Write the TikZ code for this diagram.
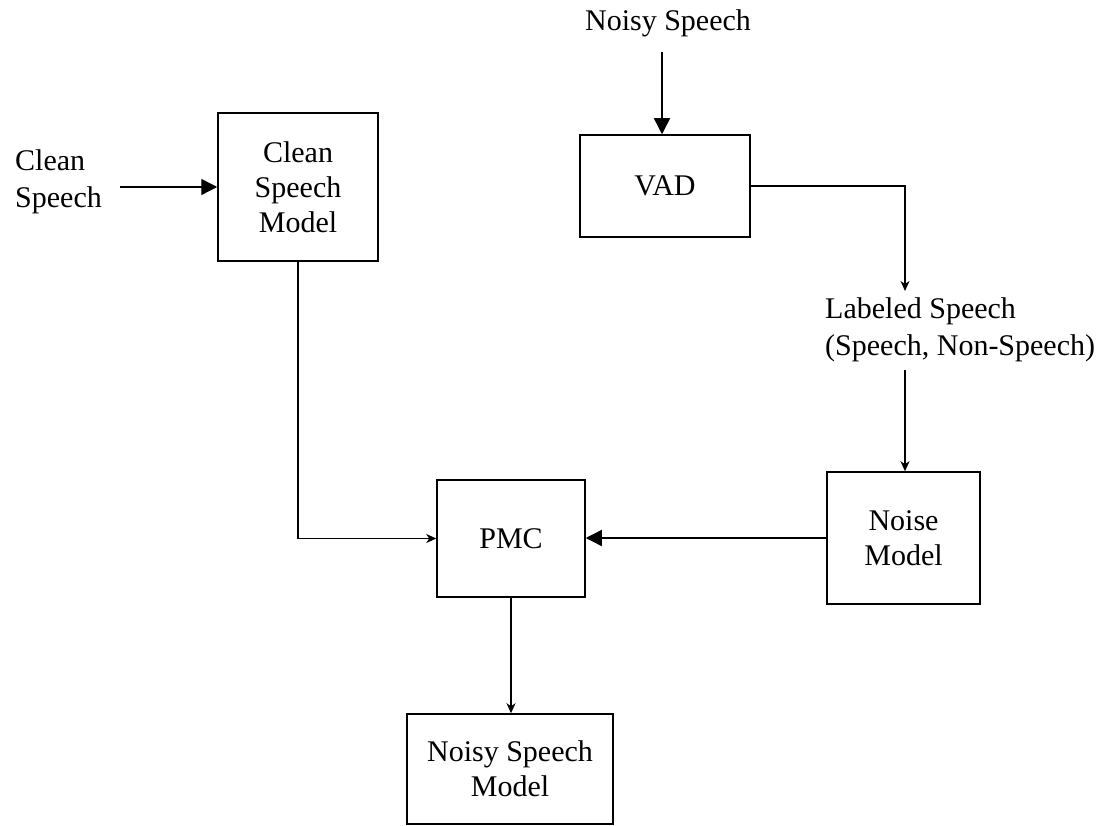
\documentclass[tikz,border=0pt]{standalone}
\usepackage{fontspec}
\setmainfont{Liberation Serif}
\usetikzlibrary{arrows.meta}
\begin{document}
\begin{tikzpicture}[x=1pt,y=-1pt,
  blk/.style={draw,line width=1.5pt,inner sep=0pt,align=center,font=\fontsize{30}{35}\selectfont},
  lbl/.style={inner sep=0pt,font=\fontsize{30}{36.5}\selectfont},
  conn/.style={line width=1.4pt},
  bigarr/.style={conn,-{Triangle[length=16pt,width=16pt]}},
  smallarr/.style={conn,-{Stealth[length=10pt,width=9pt,inset=3pt]}}]
\useasboundingbox (0,0) rectangle (1108,826);
% boxes
\node[blk,minimum width=160pt,minimum height=148pt] (csm) at (298,187) {Clean\\Speech\\Model};
\node[blk,minimum width=170pt,minimum height=102pt] (vad) at (665,186) {VAD};
\node[blk,minimum width=148pt,minimum height=117pt] (pmc) at (511,538.5) {PMC};
\node[blk,minimum width=153pt,minimum height=132pt] (nm) at (903.5,538) {Noise\\Model};
\node[blk,minimum width=206pt,minimum height=110pt] (nsm) at (510,769) {Noisy Speech\\Model};
% labels
\node[lbl] (ns) at (668,23) {Noisy Speech};
\node[lbl,align=left,anchor=west] (cs) at (15,182) {Clean\\Speech};
\node[lbl,align=left,anchor=west] (lab) at (825,330) {Labeled Speech\\(Speech, Non-Speech)};
% free ends
\coordinate (nsin) at (662,52);
\coordinate (csin) at (120,187);
\coordinate (labtop) at (905,291);
\coordinate (labbot) at (905,370);
% connectors
\draw[bigarr] (nsin) -- (nsin |- vad.north);
\draw[bigarr] (csin) -- (csm.west);
\draw[smallarr] (vad.east) -| (labtop);
\draw[smallarr] (labbot) -- (labbot |- nm.north);
\draw[smallarr] (csm.south) |- (pmc.west);
\draw[bigarr] (nm.west) -- (pmc.east |- nm.west);
\draw[smallarr] (pmc.south) -- (pmc.south |- nsm.north);
\end{tikzpicture}
\end{document}
